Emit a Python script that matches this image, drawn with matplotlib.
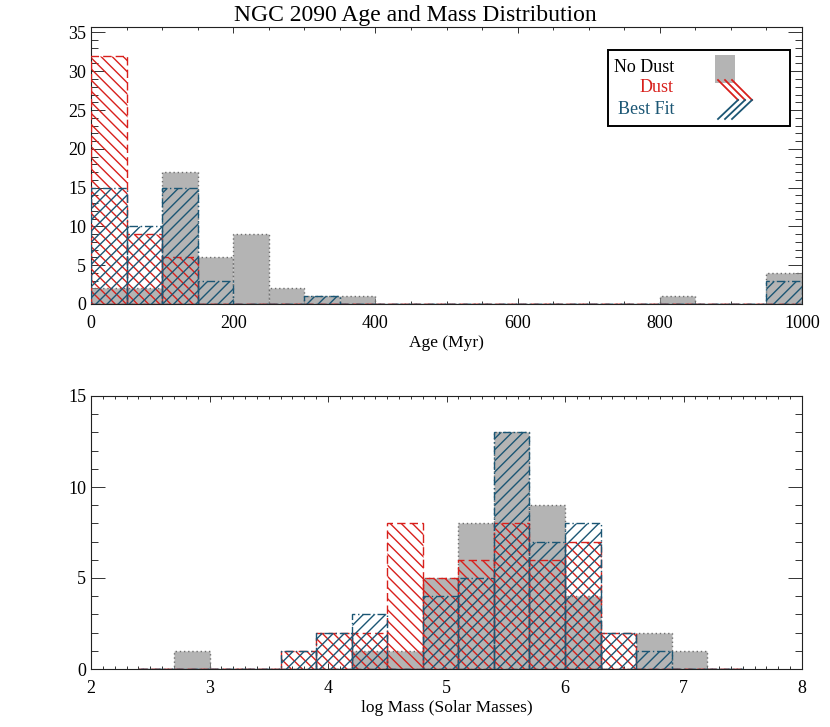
import matplotlib
matplotlib.use("Agg")
import matplotlib.pyplot as plt
import numpy as np
from matplotlib.lines import Line2D
from matplotlib.patches import Rectangle
from matplotlib.ticker import MultipleLocator

plt.rcParams["font.family"] = ["Liberation Serif", "DejaVu Serif"]
plt.rcParams["hatch.linewidth"] = 1.0

# --- data -------------------------------------------------------------
# top panel: age histogram (Myr), 50 Myr bins from 0 to 1000
age_edges = np.arange(0, 1001, 50)
age_no_dust = [2, 2, 17, 6, 9, 2, 1, 1, 0, 0, 0, 0, 0, 0, 0, 0, 1, 0, 0, 4]
age_dust = [32, 9, 6, 0, 0, 0, 0, 0, 0, 0, 0, 0, 0, 0, 0, 0, 0, 0, 0, 0]
age_best = [15, 10, 15, 3, 0, 0, 1, 0, 0, 0, 0, 0, 0, 0, 0, 0, 0, 0, 0, 3]

# bottom panel: log mass histogram, 0.3 dex bins from 2.4 to 7.5
mass_edges = np.round(np.arange(2.4, 7.51, 0.3), 1)
mass_no_dust = [0, 1, 0, 0, 0, 0, 1, 1, 5, 8, 13, 9, 4, 0, 2, 1, 0]
mass_dust = [0, 0, 0, 0, 1, 2, 2, 8, 5, 6, 8, 6, 7, 2, 0, 0, 0]
mass_best = [0, 0, 0, 0, 1, 2, 3, 0, 4, 5, 13, 7, 8, 2, 1, 0, 0]

GRAY_FILL = "#b4b4b4"
GRAY_EDGE = "#6e6e6e"
RED = "#d8201c"
TEAL = "#1b5674"

W, H = 830, 727


def draw_hist(ax, edges, no_dust, dust, best):
    left = edges[:-1]
    width = np.diff(edges)
    ax.bar(left, no_dust, width=width, align="edge", color=GRAY_FILL,
           edgecolor=GRAY_EDGE, linewidth=1.0, linestyle=(0, (1, 2)), zorder=2)
    ax.bar(left, dust, width=width, align="edge", fill=False, hatch="\\\\\\",
           edgecolor=RED, linewidth=1.0, linestyle=(0, (6, 3)), zorder=3)
    ax.bar(left, best, width=width, align="edge", fill=False, hatch="///",
           edgecolor=TEAL, linewidth=1.0, linestyle=(0, (6, 2, 1, 2)), zorder=4)


def style_axis(ax, xmaj, xmin, ymaj, ymin):
    ax.xaxis.set_major_locator(MultipleLocator(xmaj))
    ax.xaxis.set_minor_locator(MultipleLocator(xmin))
    ax.yaxis.set_major_locator(MultipleLocator(ymaj))
    ax.yaxis.set_minor_locator(MultipleLocator(ymin))
    ax.tick_params(which="both", direction="in", top=True, right=True,
                   labelsize=13, width=0.7, color="#333333")
    ax.tick_params(axis="y", which="major", length=10)
    ax.tick_params(axis="y", which="minor", length=5)
    ax.tick_params(axis="x", which="major", length=4, pad=8)
    ax.tick_params(axis="x", which="minor", length=2.2)
    for sp in ax.spines.values():
        sp.set_linewidth(0.8)
        sp.set_color("#222222")


fig = plt.figure(figsize=(W / 100, H / 100), dpi=100)
fig.patch.set_facecolor("white")

ax1 = fig.add_axes([91 / W, 1 - 304 / H, 711 / W, 277 / H])
ax2 = fig.add_axes([91 / W, 1 - 669 / H, 711 / W, 273 / H])

draw_hist(ax1, age_edges, age_no_dust, age_dust, age_best)
ax1.set_xlim(0, 1000)
ax1.set_ylim(0, 35.7)
style_axis(ax1, 200, 50, 5, 1)
ax1.set_xlabel("Age (Myr)", fontsize=12.5, labelpad=2)

draw_hist(ax2, mass_edges, mass_no_dust, mass_dust, mass_best)
ax2.set_xlim(2, 8)
ax2.set_ylim(0, 15)
style_axis(ax2, 1, 0.1, 5, 1)
ax2.set_xlabel("log Mass (Solar Masses)", fontsize=12.5, labelpad=2)

fig.text(0.5, 1 - 15 / H, "NGC 2090 Age and Mass Distribution",
         ha="center", va="center", fontsize=17)


# --- legend box, drawn in figure pixel positions ----------------------
def fx(px):
    return px / W


def fy(py):
    return 1 - py / H


fig.add_artist(Rectangle((fx(608), fy(126)), fx(790) - fx(608), fy(50) - fy(126),
                         transform=fig.transFigure, fill=True, facecolor="white",
                         edgecolor="black", linewidth=1.4, zorder=10))
for label, color, py in [("No Dust", "black", 67), ("Dust", RED, 88), ("Best Fit", TEAL, 109)]:
    fig.text(fx(674), fy(py), label, ha="right", va="center", fontsize=13,
             color=color, zorder=11)
fig.add_artist(Rectangle((fx(715), fy(83)), fx(735) - fx(715), fy(55) - fy(83),
                         transform=fig.transFigure, facecolor=GRAY_FILL,
                         edgecolor="none", zorder=11))
for k in range(3):
    dx = 7 * k
    fig.add_artist(Line2D([fx(718 + dx), fx(738 + dx)], [fy(80), fy(100)],
                          transform=fig.transFigure, color=RED, linewidth=1.3, zorder=12))
    fig.add_artist(Line2D([fx(718 + dx), fx(738 + dx)], [fy(119), fy(100)],
                          transform=fig.transFigure, color=TEAL, linewidth=1.3, zorder=12))

fig.savefig("out.png", dpi=100, facecolor="white")
